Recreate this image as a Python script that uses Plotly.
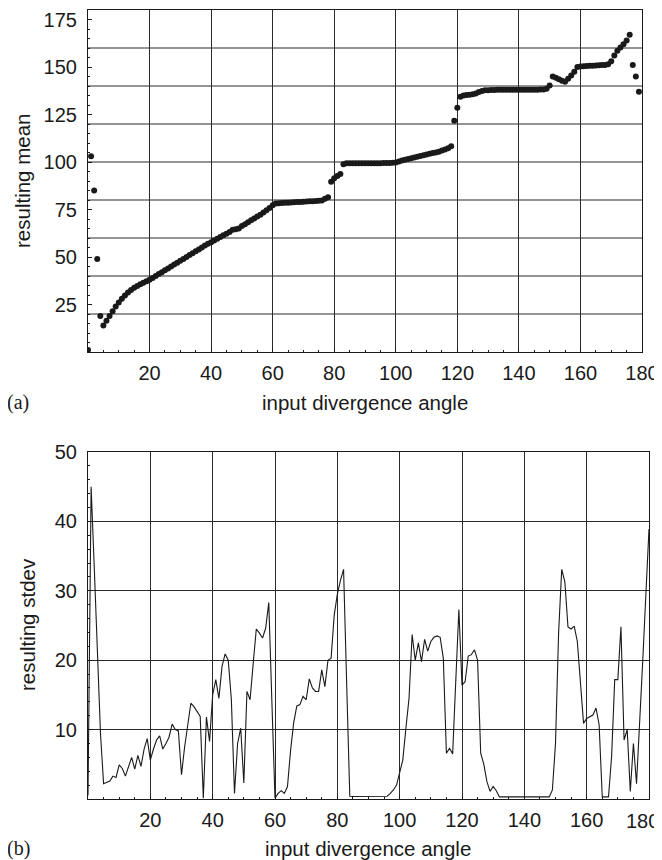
import plotly.graph_objects as go

# ---------------- data ----------------
# (a) resulting mean vs input divergence angle (one value per degree, 0..179)
angles_mean = list(range(0, 180))
mean_vals = [
    1, 103, 85, 49, 19, 14, 16.5, 19, 21.5, 24,
    26, 28, 29.8, 31.3, 32.6, 33.8, 34.8, 35.7, 36.5, 37.2,
    38, 39, 40, 41, 42, 43, 44, 45, 46, 47,
    48, 49, 50, 51, 52, 53, 54, 55, 56, 57,
    57.8, 58.7, 59.6, 60.5, 61.4, 62.3, 63.2, 64.3, 64.6, 65,
    66.3, 67.3, 68.3, 69.3, 70.3, 71.3, 72.3, 73.4, 74.6, 75.8,
    77.2, 78.2, 78.3, 78.4, 78.5, 78.6, 78.7, 78.8, 78.9, 79,
    79.1, 79.2, 79.3, 79.4, 79.5, 79.6, 79.8, 80.6, 81.5, 89.6,
    91.4, 92.6, 93.7, 98.8, 99.3, 99.3, 99.4, 99.4, 99.4, 99.4,
    99.4, 99.4, 99.4, 99.4, 99.4, 99.4, 99.5, 99.5, 99.5, 99.6,
    99.8, 100.3, 100.8, 101.2, 101.6, 102, 102.4, 102.8, 103.2, 103.6,
    104, 104.3, 104.7, 105, 105.4, 106, 106.6, 107.2, 108.3, 121.7,
    128.6, 134.4, 135, 135.2, 135.4, 135.6, 136, 136.8, 137.4, 137.7,
    137.8, 137.9, 137.9, 138, 138, 138, 138, 138, 138, 138,
    138, 138, 138, 138, 138, 138, 138, 138.1, 138.2, 138.6,
    140.3, 145, 144.3, 143.5, 142.8, 142.3, 143.8, 145.5, 147.5, 150,
    150.3, 150.4, 150.5, 150.6, 150.7, 150.8, 150.9, 151, 151, 151.5,
    153, 156, 158.5, 160.3, 162, 164, 167, 151, 145, 137,
]

# (b) resulting stdev vs input divergence angle (one value per degree, 0..180)
angles_std = list(range(0, 181))
std_vals = [
    0.5, 45, 33.5, 21.5, 9.5, 2.2, 2.4, 2.6, 3.3, 3.1,
    4.9, 4.4, 3.3, 4.5, 6.0, 4.3, 6.3, 4.7, 7.2, 8.7,
    5.6, 7.2, 8.5, 9.1, 7.2, 8.0, 8.9, 10.8, 10.0, 9.8,
    3.5, 7.5, 10.7, 13.8, 13.3, 12.6, 11.9, 0.1, 11.8, 8.3,
    15.0, 17.2, 14.5, 19.1, 20.9, 20.0, 14.3, 0.8, 8.0, 10.2,
    2.3, 15.5, 14.3, 19.5, 24.5, 23.9, 23.2, 24.6, 28.3, 14.0,
    0.1, 0.8, 1.2, 0.8, 1.8, 7.0, 11.0, 13.4, 13.6, 14.8,
    14.3, 17.3, 16.0, 15.5, 15.5, 18.6, 16.2, 20.0, 20.3, 26.5,
    29.5, 31.5, 33.1, 16.5, 0.4, 0.35, 0.35, 0.35, 0.35, 0.35,
    0.35, 0.35, 0.35, 0.35, 0.35, 0.35, 0.4, 0.8, 1.3, 2.0,
    3.7, 5.6, 10.2, 14.5, 23.7, 20.0, 22.5, 19.8, 23.0, 21.3,
    22.7, 23.3, 23.5, 23.3, 20.3, 6.6, 7.3, 6.5, 17.0, 27.3,
    16.4, 16.9, 20.6, 20.8, 21.5, 20.0, 6.6, 5.0, 2.5, 1.1,
    1.8, 1.2, 0.3, 0.3, 0.3, 0.3, 0.3, 0.3, 0.3, 0.3,
    0.3, 0.3, 0.3, 0.3, 0.3, 0.3, 0.3, 0.3, 0.3, 1.3,
    8.0, 24.0, 33.1, 31.3, 24.8, 24.5, 24.9, 22.7, 16.2, 10.9,
    11.6, 11.9, 12.1, 13.1, 10.7, 0.3, 0.3, 0.3, 6.1, 17.2,
    17.2, 24.8, 8.5, 10.0, 1.1, 8.0, 2.2, 10.5, 20.0, 29.5,
    38.9,
]

x_ticks = [20, 40, 60, 80, 100, 120, 140, 160, 180]
x_ticktext = ["20", "40", "60", "80", "100", "120", "140", "160", "180"]
mean_ticks = [25, 50, 75, 100, 125, 150, 175]
mean_grid = [20, 40, 60, 80, 100, 120, 140, 160]
std_ticks = [10, 20, 30, 40, 50]

# ---------------- figure ----------------
# the page body keeps its default 8px margin, so the figure is sized to fit
# the 662x860 window exactly and every target pixel is shifted by that offset
OFF = 8
W, H = 662 - OFF, 860 - OFF
INK = "#1a1a1a"
GRID = "#2a2a2a"
SANS = "Liberation Sans, Arial, Helvetica, sans-serif"
SERIF = "Liberation Serif, Times New Roman, serif"


def fx(p):
    return (p - OFF) / W


def fy(p):
    return 1 - (p - OFF) / H


fig = go.Figure()
fig.add_trace(go.Scatter(
    x=angles_mean, y=mean_vals, mode="markers",
    marker=dict(size=6, color=INK, line=dict(width=0)),
    xaxis="x", yaxis="y", showlegend=False, hoverinfo="x+y",
))
fig.add_trace(go.Scatter(
    x=angles_std, y=std_vals, mode="lines",
    line=dict(color=INK, width=1.1),
    xaxis="x2", yaxis="y2", showlegend=False, hoverinfo="x+y",
))

common = dict(
    showline=True, linecolor=INK, linewidth=1.2, mirror=True,
    ticks="inside", ticklen=4, tickwidth=1, tickcolor=INK,
    zeroline=False, fixedrange=True, automargin=False,
    ticklabeloverflow="allow",
    tickfont=dict(family=SANS, size=20, color=INK),
    gridcolor=GRID, gridwidth=1,
)

# the last label of panel (b) would run past the window edge, so it is
# written as a right-aligned annotation instead of an axis tick label
bottom_ticktext = x_ticktext[:-1] + [""]

fig.update_layout(
    width=W, height=H,
    margin=dict(l=0, r=0, t=0, b=0),
    paper_bgcolor="white", plot_bgcolor="white",
    showlegend=False,
    xaxis=dict(
        common, domain=[fx(88), fx(642)], anchor="y", range=[0, 180],
        tickmode="array", tickvals=x_ticks, ticktext=x_ticktext, showgrid=True,
        ticklabelstandoff=3,
        minor=dict(tickmode="linear", tick0=0, dtick=5, ticks="inside",
                   ticklen=2, tickcolor=INK, showgrid=False),
    ),
    yaxis=dict(
        common, domain=[fy(352), fy(10)], anchor="x", range=[0, 180],
        tickmode="array", tickvals=mean_ticks, showgrid=False,
        ticklabelstandoff=6,
        minor=dict(tickmode="linear", tick0=0, dtick=5, ticks="inside",
                   ticklen=2, tickcolor=INK, showgrid=False),
    ),
    xaxis2=dict(
        common, domain=[fx(88), fx(649)], anchor="y2", range=[0, 180],
        tickmode="array", tickvals=x_ticks, ticktext=bottom_ticktext,
        showgrid=True, ticklabelstandoff=3,
        minor=dict(tickmode="linear", tick0=0, dtick=5, ticks="inside",
                   ticklen=2, tickcolor=INK, showgrid=False),
    ),
    yaxis2=dict(
        common, domain=[fy(799), fy(452)], anchor="x2", range=[0, 50],
        tickmode="array", tickvals=std_ticks, showgrid=True,
        ticklabelstandoff=6,
        minor=dict(tickmode="linear", tick0=0, dtick=2, ticks="inside",
                   ticklen=2, tickcolor=INK, showgrid=False),
    ),
)

# horizontal grid of panel (a) sits at multiples of 20 while its labels are at 25s
fig.update_layout(shapes=[
    dict(type="line", xref="x domain", yref="y", x0=0, x1=1, y0=v, y1=v,
         line=dict(color=GRID, width=1), layer="below")
    for v in mean_grid
])

tick_font = dict(family=SANS, size=20, color=INK)
title_font = dict(family=SANS, size=20.5, color=INK)
label_font = dict(family=SERIF, size=20, color=INK)
annotations = [
    dict(text=x_ticktext[-1], x=fx(661), y=fy(821), font=tick_font,
         xanchor="right", yanchor="middle"),
    dict(text="input divergence angle", x=fx(365), y=fy(402), font=title_font,
         xanchor="center", yanchor="middle"),
    dict(text="input divergence angle", x=fx(368), y=fy(848), font=title_font,
         xanchor="center", yanchor="middle"),
    dict(text="resulting mean", x=fx(22), y=fy(181), font=title_font,
         textangle=-90, xanchor="center", yanchor="middle"),
    dict(text="resulting stdev", x=fx(27), y=fy(625), font=title_font,
         textangle=-90, xanchor="center", yanchor="middle"),
    dict(text="(a)", x=fx(5), y=fy(402), font=label_font,
         xanchor="left", yanchor="middle"),
    dict(text="(b)", x=fx(5), y=fy(848), font=label_font,
         xanchor="left", yanchor="middle"),
]
for a in annotations:
    a.update(xref="paper", yref="paper", showarrow=False)
fig.update_layout(annotations=annotations)

fig.write_html("out.html")
